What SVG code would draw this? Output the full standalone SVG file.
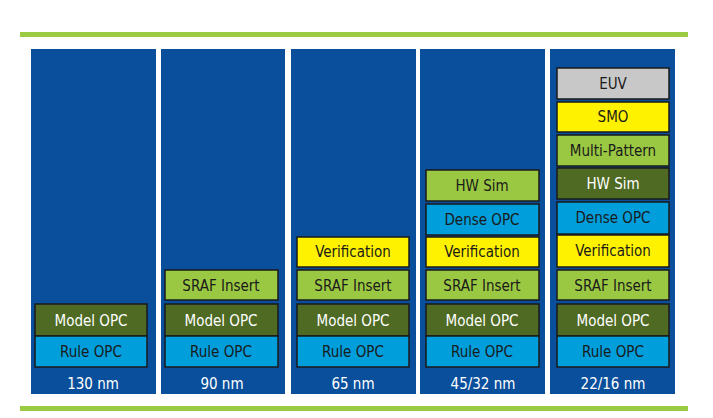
<svg xmlns="http://www.w3.org/2000/svg" width="713" height="418" viewBox="0 0 713 418">
<style>
.bar{fill:#9bcb43}
.col{fill:#0a4f9c}
.b{stroke:#1a1a1a;stroke-width:1.5}
.rule{fill:#009edb}
.model{fill:#4e6a23}
.sraf{fill:#9bc842}
.ver{fill:#fff200}
.euv{fill:#c8c8c8}
text{font-family:"DejaVu Sans Condensed","DejaVu Sans",sans-serif;font-size:15px;text-anchor:middle;fill:#1a1a1a}
.w{fill:#ffffff}
</style>
<rect class="bar" x="20" y="32" width="668" height="5"/>
<rect class="bar" x="20" y="406" width="668" height="5"/>
<g id="col130">
<rect class="col" x="31" y="49" width="125" height="345"/>
<rect class="b model" x="35" y="304" width="112" height="32"/><text class="w" x="91" y="326">Model OPC</text>
<rect class="b rule" x="35" y="336" width="112" height="31"/><text x="91" y="357">Rule OPC</text>
<text class="w" x="93" y="389">130 nm</text>
</g>
<g id="col90">
<rect class="col" x="161" y="49" width="124" height="345"/>
<rect class="b sraf" x="165" y="270" width="113" height="30"/><text x="221" y="291">SRAF Insert</text>
<rect class="b model" x="165" y="304" width="113" height="32"/><text class="w" x="221" y="326">Model OPC</text>
<rect class="b rule" x="165" y="336" width="113" height="31"/><text x="221" y="357">Rule OPC</text>
<text class="w" x="222" y="389">90 nm</text>
</g>
<g id="col65">
<rect class="col" x="291" y="49" width="125" height="345"/>
<rect class="b ver" x="297" y="237" width="112" height="30"/><text x="353" y="257">Verification</text>
<rect class="b sraf" x="297" y="270" width="112" height="30"/><text x="353" y="291">SRAF Insert</text>
<rect class="b model" x="297" y="304" width="112" height="32"/><text class="w" x="353" y="326">Model OPC</text>
<rect class="b rule" x="297" y="336" width="112" height="31"/><text x="353" y="357">Rule OPC</text>
<text class="w" x="353" y="389">65 nm</text>
</g>
<g id="col45">
<rect class="col" x="420" y="49" width="125" height="345"/>
<rect class="b sraf" x="426" y="170" width="113" height="31"/><text x="482" y="191">HW Sim</text>
<rect class="b rule" x="426" y="204" width="113" height="31"/><text x="482" y="225">Dense OPC</text>
<rect class="b ver" x="426" y="237" width="113" height="30"/><text x="482" y="257">Verification</text>
<rect class="b sraf" x="426" y="270" width="113" height="30"/><text x="482" y="291">SRAF Insert</text>
<rect class="b model" x="426" y="304" width="113" height="32"/><text class="w" x="482" y="326">Model OPC</text>
<rect class="b rule" x="426" y="336" width="113" height="31"/><text x="482" y="357">Rule OPC</text>
<text class="w" x="483" y="389">45/32 nm</text>
</g>
<g id="col22">
<rect class="col" x="550" y="49" width="125" height="345"/>
<rect class="b euv" x="557" y="68" width="112" height="31"/><text x="613" y="89">EUV</text>
<rect class="b ver" x="557" y="102" width="112" height="30"/><text x="613" y="122">SMO</text>
<rect class="b sraf" x="557" y="135" width="112" height="31"/><text x="613" y="156">Multi-Pattern</text>
<rect class="b model" x="557" y="168" width="112" height="31"/><text class="w" x="613" y="189">HW Sim</text>
<rect class="b rule" x="557" y="202" width="112" height="32"/><text x="613" y="223">Dense OPC</text>
<rect class="b ver" x="557" y="235" width="112" height="32"/><text x="613" y="256">Verification</text>
<rect class="b sraf" x="557" y="270" width="112" height="30"/><text x="613" y="291">SRAF Insert</text>
<rect class="b model" x="557" y="304" width="112" height="32"/><text class="w" x="613" y="326">Model OPC</text>
<rect class="b rule" x="557" y="336" width="112" height="31"/><text x="613" y="357">Rule OPC</text>
<text class="w" x="613" y="389">22/16 nm</text>
</g>
<g id="connectors"></g>
</svg>
